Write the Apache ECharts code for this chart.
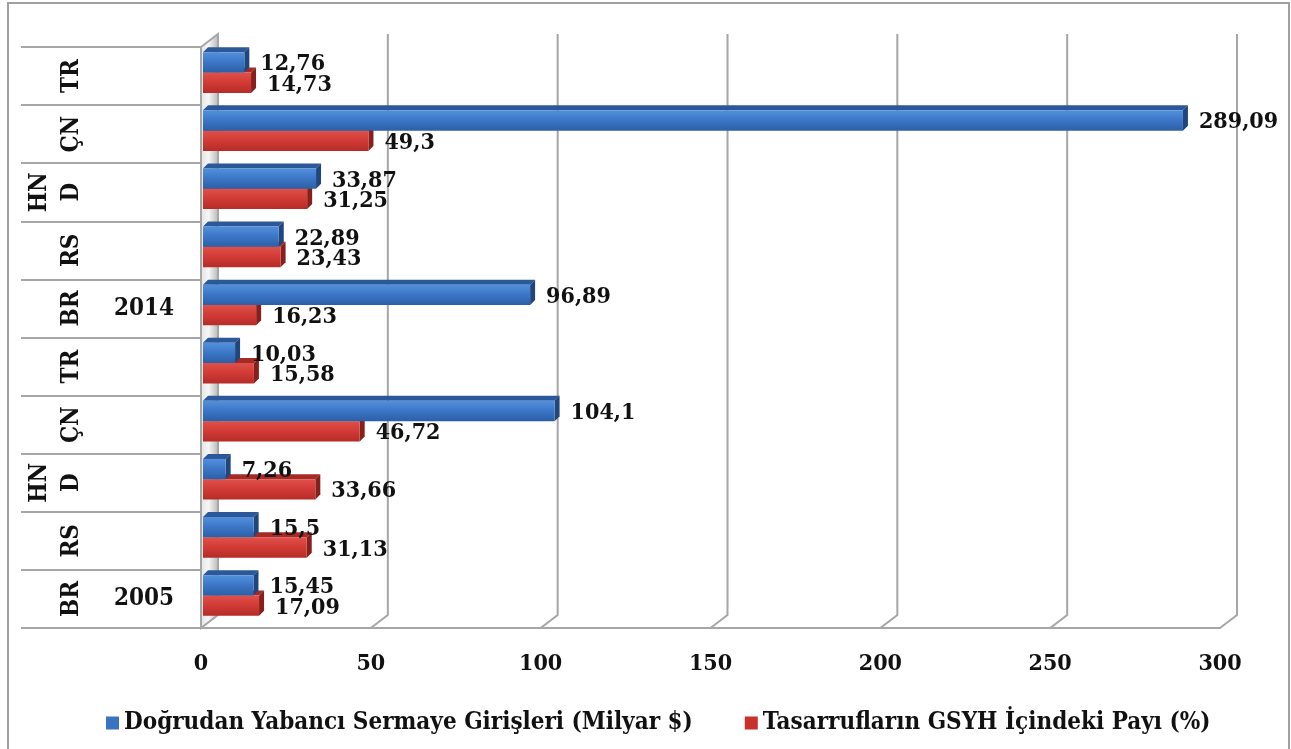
<!DOCTYPE html>
<html>
<head>
<meta charset="utf-8">
<script src="https://cdn.jsdelivr.net/npm/echarts@6/dist/echarts.min.js"></script>
<style>
html, body { margin: 0; padding: 0; background: #fff; }
#main { width: 1291px; height: 749px; }
</style>
</head>
<body>
<div id="main"></div>
<script>
// rows from bottom to top
var countries = ['BR', 'RS', 'HND', 'ÇN', 'TR', 'BR', 'RS', 'HND', 'ÇN', 'TR'];
var years = ['2005', '', '', '', '', '2014', '', '', '', ''];
var fdi = [15.45, 15.5, 7.26, 104.1, 10.03, 96.89, 22.89, 33.87, 289.09, 12.76];
var savings = [17.09, 31.13, 33.66, 46.72, 15.58, 16.23, 23.43, 31.25, 49.3, 14.73];
var ticks = [0, 50, 100, 150, 200, 250, 300];
var names = ['Doğrudan Yabancı Sermaye Girişleri (Milyar $)', 'Tasarrufların GSYH İçindeki Payı (%)'];

var FONT = '"DejaVu Serif Condensed", "DejaVu Serif", serif';
var DX = 17, DY = 13;      // wall depth
var BX = 5, BY = 5;        // bar depth
var GRID = '#a6a6a6';

var blue = { front: ['#5290dc', '#3b76c6', '#2c5fa6'], top: '#2b5899', side: '#21467c', legend: '#3a73c0' };
var red = { front: ['#e0504a', '#d13a35', '#b52c28'], top: '#a52a26', side: '#86201d', legend: '#c9312d' };

function fmt(v) {
    return String(v).replace('.', ',');
}

function frameItem(params, api) {
    var t = api.value(0);
    var x = api.coord([t, 0])[0];
    var cs = params.coordSys;
    var top = cs.y, bot = cs.y + cs.height;
    var children = [];
    if (t === ticks[0]) {
        children.push({
            type: 'polygon',
            shape: { points: [[x, top], [x + DX, top - DY], [x + DX, bot - DY], [x, bot]] },
            style: {
                fill: new echarts.graphic.LinearGradient(0, 0, 1, 0, [
                    { offset: 0, color: '#e2e2e2' },
                    { offset: 0.45, color: '#f6f6f6' },
                    { offset: 1, color: '#b4b4b4' }
                ]),
                stroke: GRID, lineWidth: 2
            }
        });
    } else {
        children.push({
            type: 'polyline',
            shape: { points: [[x + DX, top - DY], [x + DX, bot - DY], [x, bot]] },
            style: { stroke: GRID, lineWidth: 2, fill: null }
        });
    }
    return { type: 'group', children: children };
}

function barItem(upper, c) {
    return function (params, api) {
        var v = api.value(0), idx = api.value(1);
        var p0 = api.coord([0, idx]);
        var p1 = api.coord([v, idx]);
        var band = api.size([0, 1])[1];
        var h = band * 0.35;
        var mid = p0[1] - band * 0.06;
        var y0 = upper ? mid - h : mid;
        var y1 = y0 + h;
        var x0 = p0[0] + 2, x1 = p1[0];
        return {
            type: 'group',
            children: [
                {
                    type: 'polygon',
                    shape: { points: [[x0, y0], [x0 + BX, y0 - BY], [x1 + BX, y0 - BY], [x1, y0]] },
                    style: { fill: c.top }
                },
                {
                    type: 'polygon',
                    shape: { points: [[x1, y0], [x1 + BX, y0 - BY], [x1 + BX, y1 - BY], [x1, y1]] },
                    style: { fill: c.side }
                },
                {
                    type: 'rect',
                    shape: { x: x0, y: y0, width: x1 - x0, height: h },
                    style: {
                        fill: new echarts.graphic.LinearGradient(0, 0, 0, 1, [
                            { offset: 0, color: c.front[0] },
                            { offset: 0.5, color: c.front[1] },
                            { offset: 1, color: c.front[2] }
                        ])
                    }
                },
                {
                    type: 'text',
                    z2: 10,
                    style: {
                        text: fmt(v),
                        x: x1 + BX + 11,
                        y: (y0 + y1) / 2 + 2,
                        align: 'left',
                        verticalAlign: 'middle',
                        fill: '#111',
                        font: 'bold 23px ' + FONT
                    }
                }
            ]
        };
    };
}

var myChart = echarts.init(document.getElementById('main'));
var option = {
    backgroundColor: '#fff',
    animation: false,
    graphic: [{
        type: 'rect',
        shape: { x: 8, y: 3, width: 1281, height: 780 },
        style: { fill: null, stroke: '#a0a0a0', lineWidth: 2 },
        silent: true
    }],
    grid: { left: 201, right: 71, top: 47, bottom: 121 },
    legend: {
        data: names,
        left: 101,
        top: 706,
        itemWidth: 13,
        itemHeight: 13,
        itemGap: 52,
        icon: 'rect',
        textStyle: { fontFamily: FONT, fontWeight: 'bold', fontSize: 24, color: '#111' }
    },
    xAxis: {
        type: 'value',
        min: 0,
        max: 300,
        interval: 50,
        axisLine: { show: true, lineStyle: { color: GRID, width: 2 } },
        axisTick: { show: false },
        splitLine: { show: false },
        axisLabel: {
            margin: 25,
            color: '#111',
            fontFamily: FONT,
            fontWeight: 'bold',
            fontSize: 23,
            formatter: function (v) { return ticks.indexOf(v) >= 0 ? String(v) : ''; }
        }
    },
    yAxis: [{
        type: 'category',
        data: countries,
        axisLine: { show: false },
        axisTick: { show: true, length: 180, interval: 0, lineStyle: { color: GRID, width: 2 } },
        axisLabel: {
            interval: 0,
            rotate: 90,
            margin: 113,
            color: '#111',
            fontFamily: FONT,
            fontWeight: 'bold',
            fontSize: 24,
            lineHeight: 32,
            formatter: function (v) { return v === 'HND' ? 'HN\nD' : v; }
        }
    }, {
        type: 'category',
        position: 'left',
        data: years,
        axisLine: { show: false },
        axisTick: { show: false },
        axisLabel: {
            interval: 0,
            margin: 27,
            color: '#111',
            fontFamily: FONT,
            fontWeight: 'bold',
            fontSize: 24
        }
    }],
    series: [{
        type: 'custom',
        silent: true,
        z: 1,
        renderItem: frameItem,
        encode: { x: 0, y: 1 },
        data: ticks.map(function (t) { return [t, 0]; })
    }, {
        name: names[0],
        type: 'custom',
        z: 3,
        renderItem: barItem(true, blue),
        itemStyle: { color: blue.legend },
        encode: { x: 0, y: 1 },
        data: fdi.map(function (v, i) { return [v, i]; })
    }, {
        name: names[1],
        type: 'custom',
        z: 2,
        renderItem: barItem(false, red),
        itemStyle: { color: red.legend },
        encode: { x: 0, y: 1 },
        data: savings.map(function (v, i) { return [v, i]; })
    }]
};
myChart.setOption(option);
</script>
</body>
</html>
